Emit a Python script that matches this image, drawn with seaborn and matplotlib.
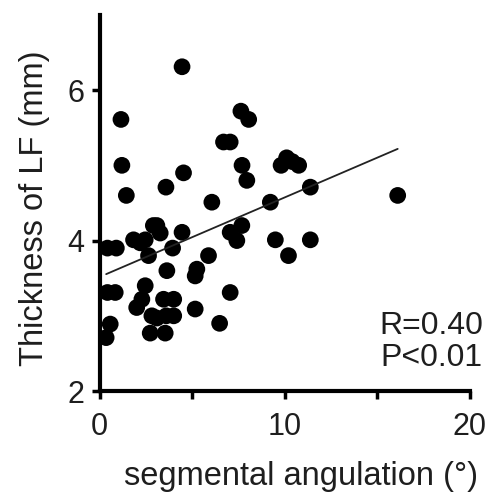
import numpy as np
import pandas as pd
import matplotlib
matplotlib.use("Agg")
import matplotlib.pyplot as plt
import seaborn as sns

angulation = [4.45, 1.15, 1.2, 1.44, 0.42, 0.9, 0.42, 0.84, 0.57, 0.35,
              1.83, 2.19, 2.46, 2.64, 3.09, 3.27, 3.58, 4.53, 4.45, 3.94,
              3.63, 2.46, 2.28, 2.0, 2.82, 3.09, 2.73, 3.45, 4.0, 3.54,
              4.0, 3.6, 5.16, 5.25, 5.16, 5.88, 6.06, 6.48, 6.69, 7.05,
              7.05, 7.41, 7.68, 7.05, 7.63, 8.05, 7.69, 7.95, 9.22, 9.49,
              9.8, 10.1, 10.75, 10.4, 10.2, 11.38, 11.38, 16.1, 2.9]
thickness = [6.31, 5.61, 5.0, 4.6, 3.9, 3.9, 3.31, 3.31, 2.89, 2.71,
             4.01, 3.97, 4.01, 3.8, 4.2, 4.1, 4.71, 4.9, 4.11, 3.9,
             3.6, 3.4, 3.22, 3.11, 3.0, 2.97, 2.77, 3.22, 3.22, 2.77,
             3.0, 3.0, 3.53, 3.62, 3.09, 3.8, 4.51, 2.9, 5.31, 5.31,
             4.11, 4.0, 4.2, 3.31, 5.72, 5.61, 5.0, 4.8, 4.51, 4.01,
             5.0, 5.1, 5.0, 5.05, 3.8, 4.71, 4.01, 4.6, 4.2]

stats_lines = ["R=0.40", "P<0.01"]
xticks = [0, 10, 20]
yticks = [2, 4, 6]

df = pd.DataFrame({"angulation": angulation, "thickness": thickness})

sns.set_style("ticks")
plt.rcParams['font.family'] = ['Liberation Sans', 'DejaVu Sans']
txt = "#1e1e1e"

fig = plt.figure(figsize=(4.91, 4.95), dpi=100)
ax = fig.add_axes([0.203, 0.21, 0.754, 0.76])

sns.regplot(data=df, x="angulation", y="thickness", ax=ax, ci=None,
            truncate=True,
            scatter_kws=dict(s=145, color="black", edgecolor="none", alpha=1),
            line_kws=dict(color="#222222", lw=1.3))

ax.set_xlim(0, 20)
ax.set_ylim(2, 7)
ax.set_xticks(xticks)
ax.set_xticks([5, 15], minor=True)
ax.set_yticks(yticks)
ax.tick_params(axis="both", which="major", labelsize=22, width=2.5, length=6,
               direction="out", colors="black", labelcolor=txt)
ax.tick_params(axis="x", which="major", pad=9)
ax.tick_params(axis="y", which="major", pad=5)
ax.tick_params(axis="x", which="minor", width=2.5, length=6, direction="out",
               colors="black")
for s in ["left", "bottom"]:
    ax.spines[s].set_linewidth(3)
    ax.spines[s].set_color("black")
sns.despine(ax=ax)

ax.set_xlabel("segmental angulation (°)", fontsize=23.5, color=txt)
ax.set_ylabel("Thickness of LF (mm)", fontsize=23.5, color=txt)
ax.xaxis.set_label_coords(0.544, -0.185)
ax.xaxis.label.set_va("top")
ax.yaxis.set_label_coords(-0.135, 0.487)

ax.text(1.035, 0.174, stats_lines[0], transform=ax.transAxes, ha="right",
        va="center", fontsize=23, color=txt)
ax.text(1.035, 0.088, stats_lines[1], transform=ax.transAxes, ha="right",
        va="center", fontsize=23, color=txt)

fig.savefig("out.png", dpi=100)
